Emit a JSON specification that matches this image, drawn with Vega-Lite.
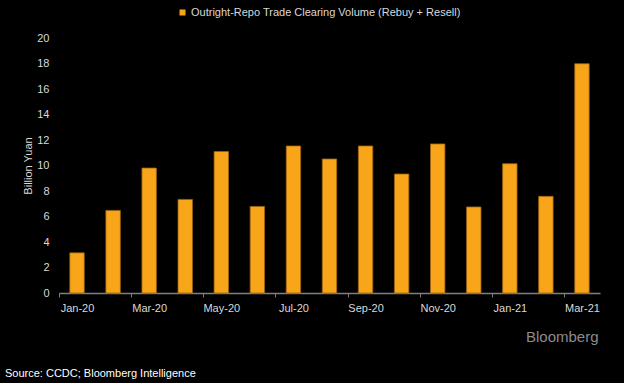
{
  "$schema": "https://vega.github.io/schema/vega-lite/v6.json",
  "autosize": "none",
  "width": 541,
  "height": 255,
  "padding": {"left": 59, "top": 38, "right": 24, "bottom": 90},
  "background": "#000000",
  "title": {
    "text": "Source: CCDC; Bloomberg Intelligence",
    "orient": "bottom",
    "anchor": "start",
    "frame": "group",
    "dx": -54,
    "offset": 24,
    "fontSize": 11,
    "fontWeight": "normal",
    "font": "Liberation Sans",
    "color": "#ffffff"
  },
  "config": {
    "view": {"stroke": null},
    "font": "Liberation Sans"
  },
  "data": {
    "values": [
      {"month": "Jan-20", "value": 3.15, "series": "Outright-Repo Trade Clearing Volume (Rebuy + Resell)"},
      {"month": "Feb-20", "value": 6.48, "series": "Outright-Repo Trade Clearing Volume (Rebuy + Resell)"},
      {"month": "Mar-20", "value": 9.8, "series": "Outright-Repo Trade Clearing Volume (Rebuy + Resell)"},
      {"month": "Apr-20", "value": 7.34, "series": "Outright-Repo Trade Clearing Volume (Rebuy + Resell)"},
      {"month": "May-20", "value": 11.1, "series": "Outright-Repo Trade Clearing Volume (Rebuy + Resell)"},
      {"month": "Jun-20", "value": 6.79, "series": "Outright-Repo Trade Clearing Volume (Rebuy + Resell)"},
      {"month": "Jul-20", "value": 11.53, "series": "Outright-Repo Trade Clearing Volume (Rebuy + Resell)"},
      {"month": "Aug-20", "value": 10.51, "series": "Outright-Repo Trade Clearing Volume (Rebuy + Resell)"},
      {"month": "Sep-20", "value": 11.53, "series": "Outright-Repo Trade Clearing Volume (Rebuy + Resell)"},
      {"month": "Oct-20", "value": 9.33, "series": "Outright-Repo Trade Clearing Volume (Rebuy + Resell)"},
      {"month": "Nov-20", "value": 11.69, "series": "Outright-Repo Trade Clearing Volume (Rebuy + Resell)"},
      {"month": "Dec-20", "value": 6.75, "series": "Outright-Repo Trade Clearing Volume (Rebuy + Resell)"},
      {"month": "Jan-21", "value": 10.14, "series": "Outright-Repo Trade Clearing Volume (Rebuy + Resell)"},
      {"month": "Feb-21", "value": 7.58, "series": "Outright-Repo Trade Clearing Volume (Rebuy + Resell)"},
      {"month": "Mar-21", "value": 17.98, "series": "Outright-Repo Trade Clearing Volume (Rebuy + Resell)"}
    ]
  },
  "mark": {"type": "bar", "stroke": "#9a6410", "strokeWidth": 0.8},
  "encoding": {
    "x": {
      "field": "month",
      "type": "ordinal",
      "sort": null,
      "scale": {"paddingInner": 0.6, "paddingOuter": 0.3},
      "axis": {
        "values": ["Jan-20", "Mar-20", "May-20", "Jul-20", "Sep-20", "Nov-20", "Jan-21", "Mar-21"],
        "labelAngle": 0,
        "labelColor": "#d9d9d9",
        "labelFontSize": 11,
        "labelPadding": 5,
        "tickOffset": -18.03,
        "labelOffset": 18.03,
        "tickColor": "#808080",
        "tickSize": 4,
        "domainColor": "#808080",
        "domainWidth": 1.5,
        "title": "Bloomberg",
        "titleColor": "#8c8c8c",
        "titleFontSize": 15,
        "titleFontWeight": "normal",
        "titleAnchor": "end",
        "titleAlign": "right",
        "titleX": 539,
        "titleY": 43,
        "titleBaseline": "middle"
      }
    },
    "y": {
      "field": "value",
      "type": "quantitative",
      "scale": {"domain": [0, 20]},
      "axis": {
        "values": [0, 2, 4, 6, 8, 10, 12, 14, 16, 18, 20],
        "grid": false,
        "domain": false,
        "ticks": false,
        "labelPadding": 10,
        "labelColor": "#d9d9d9",
        "labelFontSize": 11,
        "title": "Billion Yuan",
        "titleColor": "#d9d9d9",
        "titleFontSize": 11,
        "titleFontWeight": "normal",
        "titleX": -31,
        "titleBaseline": "middle"
      }
    },
    "color": {
      "field": "series",
      "type": "nominal",
      "scale": {"range": ["#F9A51A"]},
      "legend": {
        "title": null,
        "orient": "none",
        "legendX": 118,
        "legendY": -31,
        "symbolType": "square",
        "symbolSize": 36,
        "symbolStrokeWidth": 0,
        "labelColor": "#d9d9d9",
        "labelFontSize": 11,
        "labelOffset": 3,
        "labelLimit": 400
      }
    }
  }
}
